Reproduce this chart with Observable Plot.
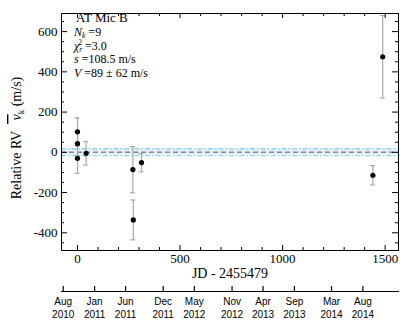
<!DOCTYPE html>
<html><head><meta charset="utf-8">
<script src="https://cdn.jsdelivr.net/npm/d3@7"></script>
<script src="https://cdn.jsdelivr.net/npm/@observablehq/plot@0.6"></script>
<style>
body{margin:0;background:#fff}
#chart svg{display:block}
</style>
</head><body><div id="chart"></div>
<script>
// ---- data ----
const jd = [0, 0, 0, 42, 270, 272, 312, 1440, 1488];
const rv = [102, 43, -30, -5, -86, -336, -51, -114, 475];
const err = [69, 60, 74, 58, 115, 99, 46, 48, 205];
const jd0 = 2455479;
const xDomain = [-78, 1565];
const yDomain = [-488, 690];
const xMajor = [0, 500, 1000, 1500];
const xMinor = d3.range(100, 1600, 100).filter(d => d % 500 !== 0);
const yMajor = [-400, -200, 0, 200, 400, 600];
const yMinor = d3.range(-450, 700, 50).filter(d => d % 200 !== 0);
const bandHalf = [17];
const meanLine = [0];
const dateTicks = ["2010-08-01","2011-01-01","2011-06-01","2011-12-01","2012-05-01","2012-11-01","2013-04-01","2013-09-01","2014-03-01","2014-08-01"];
const starName = "AT Mic B";
const nK = "9";
const chi2r = "3.0";
const sVal = "108.5";
const vVal = "89";
const vErr = "62";
const xLabel = "JD - 2455479";

const data = jd.map((d, i) => ({jd: d, rv: rv[i], err: err[i]}));
const serif = "Liberation Serif, Times New Roman, serif";

const W = 407, H = 282, mL = 61, mR = 9, mT = 13, mB = 32;
const fw = W - mL - mR, fh = H - mT - mB;
const tk = {stroke: "black", strokeWidth: 1};

const main = Plot.plot({
  width: W, height: H,
  marginLeft: mL, marginRight: mR, marginTop: mT, marginBottom: mB,
  x: {domain: xDomain, label: null},
  y: {domain: yDomain, label: null},
  style: {fontFamily: serif, fontSize: "13px", color: "black", background: "white"},
  marks: [
    Plot.rect(bandHalf, {y1: d => -d, y2: d => d, fill: "#e3f2fc"}),
    Plot.ruleY(bandHalf.flatMap(d => [-d, d]), {stroke: "#86c9f0", strokeWidth: 1.2, strokeDasharray: "5,2,1.5,2"}),
    Plot.ruleY(meanLine, {stroke: "#888", strokeWidth: 1.5, strokeDasharray: "5,3"}),
    Plot.ruleX(data, {x: "jd", y1: d => d.rv - d.err, y2: d => d.rv + d.err, stroke: "#a8a8a8", strokeWidth: 1.2}),
    Plot.ruleY(data, {y: d => d.rv - d.err, x1: "jd", x2: "jd", insetLeft: -2.5, insetRight: -2.5, stroke: "#a8a8a8", strokeWidth: 1.2}),
    Plot.ruleY(data, {y: d => d.rv + d.err, x1: "jd", x2: "jd", insetLeft: -2.5, insetRight: -2.5, stroke: "#a8a8a8", strokeWidth: 1.2}),
    Plot.dot(data, {x: "jd", y: "rv", r: 2.6, fill: "black"}),
    Plot.frame({stroke: "black"}),
    // inward ticks
    Plot.tickX(xMajor, {x: d => d, insetTop: fh - 5, ...tk}),
    Plot.tickX(xMinor, {x: d => d, insetTop: fh - 3, ...tk}),
    Plot.tickX(xMajor, {x: d => d, insetBottom: fh - 5, ...tk}),
    Plot.tickX(xMinor, {x: d => d, insetBottom: fh - 3, ...tk}),
    Plot.tickY(yMajor, {y: d => d, insetRight: fw - 6, ...tk}),
    Plot.tickY(yMinor, {y: d => d, insetRight: fw - 3, ...tk}),
    Plot.tickY(yMajor, {y: d => d, insetLeft: fw - 6, ...tk}),
    Plot.tickY(yMinor, {y: d => d, insetLeft: fw - 3, ...tk}),
    // labels
    Plot.axisX(xMajor, {anchor: "bottom", tickSize: 0, tickPadding: 3, tickFormat: d => String(d), label: null}),
    Plot.axisY(yMajor, {anchor: "left", tickSize: 0, tickPadding: 4, tickFormat: d => String(d), label: null}),
    Plot.text([xLabel], {frameAnchor: "bottom", dy: 18, lineAnchor: "top", fontSize: 14, text: d => d})
  ]
});

// y-axis label with overlined v and subscript k; annotation block
{
  const svg = d3.select(main);
  const t = svg.append("text")
    .attr("transform", "translate(18,138) rotate(-90)")
    .attr("text-anchor", "middle")
    .attr("font-family", serif)
    .attr("font-size", 14)
    .attr("fill", "black")
    .attr("dominant-baseline", "middle");
  t.append("tspan").text("Relative RV  ");
  t.append("tspan").attr("font-style", "italic").attr("text-decoration", "overline").text("\u00a0v");
  t.append("tspan").attr("font-size", 9).attr("dy", 4).text("k");
  t.append("tspan").attr("dy", -4).text(" (m/s)");

  const g = svg.append("g").attr("font-family", serif).attr("font-size", 12)
    .attr("fill", "black").attr("text-anchor", "start");
  const x0 = 74, lh = 13.6;
  g.append("text").attr("x", x0 + 2).attr("y", 22).attr("font-size", 13).text(starName);
  let l = g.append("text").attr("x", x0).attr("y", 35.5);
  l.append("tspan").attr("font-style", "italic").text("N");
  l.append("tspan").attr("font-size", 7.5).attr("dy", 2.5).attr("font-style", "italic").text("k");
  l.append("tspan").attr("dy", -2.5).text(" =" + nK);
  l = g.append("text").attr("x", x0).attr("y", 36 + lh);
  l.append("tspan").attr("font-style", "italic").text("\u03c7");
  l.append("tspan").attr("font-size", 7.5).attr("dy", 2.5).attr("font-style", "italic").text("r");
  l.append("tspan").attr("font-size", 7.5).attr("dx", -4).attr("dy", -7).text("2");
  l.append("tspan").attr("dy", 4.5).text(" =" + chi2r);
  l = g.append("text").attr("x", x0).attr("y", 36 + 2 * lh);
  l.append("tspan").attr("font-style", "italic").text("s");
  l.append("tspan").text(" =" + sVal + " m/s");
  l = g.append("text").attr("x", x0).attr("y", 36 + 3 * lh);
  l.append("tspan").attr("font-style", "italic").text("V");
  l.append("tspan").text(" =" + vVal + " \u00b1 " + vErr + " m/s");
}

const toDate = d => new Date((d + jd0 - 2440587.5) * 864e5);
const dates = dateTicks.map(s => new Date(s + "T00:00:00Z"));
const dateAxis = Plot.plot({
  width: W, height: 44,
  marginLeft: mL, marginRight: mR, marginTop: 4, marginBottom: 35,
  x: {type: "utc", domain: xDomain.map(toDate), axis: null},
  style: {fontFamily: "Liberation Sans, Arial, sans-serif", fontSize: "10px", color: "black", background: "white"},
  marks: [
    Plot.frame({anchor: "bottom", stroke: "black", strokeWidth: 1.2}),
    Plot.tickX(dates, {x: d => d, stroke: "black", strokeWidth: 1.2}),
    Plot.text(dates, {x: d => d, frameAnchor: "bottom", dy: 4, lineAnchor: "top", lineHeight: 1.3, fontSize: 10, text: d => d3.utcFormat("%b")(d) + "\n" + d3.utcFormat("%Y")(d)})
  ]
});

document.getElementById("chart").append(main, dateAxis);
</script>
</body></html>
